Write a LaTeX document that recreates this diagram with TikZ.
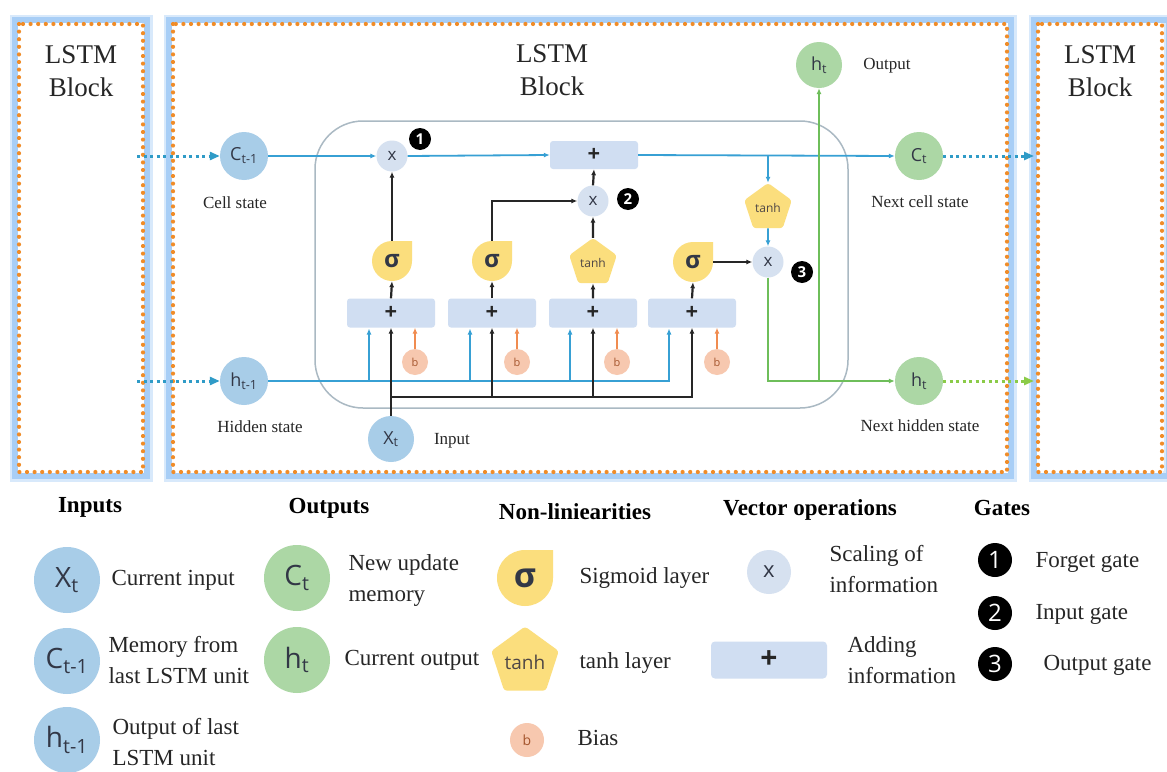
\documentclass[tikz,border=0pt]{standalone}
\usepackage{fontspec}
\setmainfont{Liberation Serif}
\newfontfamily\iconf{Open Sans}
\usetikzlibrary{arrows.meta,shapes.geometric,calc}
\definecolor{cblue}{RGB}{168,205,232}
\definecolor{cgreen}{RGB}{172,215,165}
\definecolor{cyel}{RGB}{251,222,125}
\definecolor{cgate}{RGB}{214,225,240}
\definecolor{cplus}{RGB}{208,222,242}
\definecolor{cbias}{RGB}{247,200,175}
\definecolor{cbiastxt}{RGB}{165,85,45}
\definecolor{lblue}{RGB}{55,160,212}
\definecolor{lgreen}{RGB}{110,190,90}
\definecolor{lorange}{RGB}{240,140,80}
\definecolor{fblue}{RGB}{168,206,246}
\definecolor{forange}{RGB}{240,140,40}
\definecolor{rectgrey}{RGB}{170,185,195}
\definecolor{dtxt}{RGB}{50,55,70}
\newcommand\fsz[2]{\fontsize{#1}{#2}\selectfont}
% sigma icon: name, x, y, half size, font size
\newcommand\sigicon[5]{%
  \fill[cyel] (#2+#4,#3-#4) -- (#2+#4,#3) arc[start angle=0,end angle=270,radius=#4] -- cycle;
  \node[circle,inner sep=0,minimum size=2*#4,text=dtxt,font=\iconf\bfseries\fsz{#5}{#5}] (#1) at (#2,#3) {σ};}
\begin{document}
\begin{tikzpicture}[x=1pt,y=-1pt,
  lbl/.style={font=\fsz{17}{20},text=black!85},
  leg/.style={font=\fsz{23}{31},anchor=west,align=left,text=black!85},
  hdr/.style={font=\bfseries\fsz{23}{28}},
  blk/.style={font=\fsz{27}{33},align=center,text=black!85},
  bcirc/.style={circle,inner sep=0,minimum size=48,fill=cblue,font=\iconf\fsz{18}{20},text=dtxt},
  gcirc/.style={circle,inner sep=0,minimum size=48,fill=cgreen,font=\iconf\fsz{18}{20},text=dtxt},
  bigb/.style={bcirc,minimum size=66,font=\iconf\fsz{28}{30}},
  bigg/.style={gcirc,minimum size=66,font=\iconf\fsz{28}{30}},
  gatex/.style={circle,inner sep=0,minimum size=31,fill=cgate,font=\iconf\fsz{17}{17},text=dtxt},
  plusbox/.style={rectangle,rounded corners=3,inner sep=0,minimum width=88,minimum height=28,fill=cplus,font=\iconf\bfseries\fsz{22}{22},text=black!85},
  tanhshape/.style={regular polygon,regular polygon sides=5,rounded corners=3,inner sep=0,minimum size=50,fill=cyel,font=\iconf\fsz{12}{12},text=dtxt!80!brown},
  biasc/.style={circle,inner sep=0,minimum size=26,fill=cbias,font=\iconf\fsz{11}{11},text=cbiastxt},
  badge/.style={circle,inner sep=0,minimum size=22,fill=black,text=white,font=\iconf\bfseries\fsz{15}{15}},
  bigbadge/.style={badge,minimum size=34,font=\iconf\fsz{24}{24}},
  bl/.style={draw=lblue,line width=1.8,-{Latex[length=6,width=5]}},
  bk/.style={draw=black!85,line width=2.2,-{Latex[length=6,width=5]}},
  gr/.style={draw=lgreen,line width=2.2,-{Latex[length=6,width=5]}},
  orr/.style={draw=lorange,line width=1.6,-{Latex[length=6,width=5]}},
  dotb/.style={draw=lblue!85!teal,line width=3,dash pattern=on 3pt off 3.5pt,-{Triangle[length=10,width=8]}},
  dotg/.style={draw=lgreen!80!yellow,line width=3,dash pattern=on 3pt off 3.5pt,-{Triangle[length=10,width=8]}},
  fglow/.style={draw=fblue!45,line width=11},
  fb/.style={draw=fblue,line width=6},
  fo/.style={draw=forange,line width=4.2,line cap=round,dash pattern=on 0pt off 7.6pt}
]
\useasboundingbox (0,0) rectangle (1167,771);
\fill[white] (0,0) rectangle (1167,771);
% frames
\draw[fglow] (15,20) rectangle (147,476);
\draw[fglow] (169,20) rectangle (1011,476);
\draw[fglow] (1034,20) rectangle (1169,476);
\draw[fb] (15,20) rectangle (147,476);
\draw[fb] (169,20) rectangle (1011,476);
\draw[fb] (1034,20) rectangle (1169,476);
\fill[white] (18,23) rectangle (144,473);
\fill[white] (172,23) rectangle (1008,473);
\fill[white] (1037,23) rectangle (1163,473);
\draw[fo] (19,24) rectangle (143,472);
\draw[fo] (173,24) rectangle (1007,472);
\draw[fo] (1038,24) rectangle (1162,472);
\node[blk] (lb1) at (81,71) {LSTM\\Block};
\node[blk] (lb2) at (552,70) {LSTM\\Block};
\node[blk] (lb3) at (1100,71) {LSTM\\Block};
% inner cell
\draw[rectgrey,line width=1.5,rounded corners=48] (315,121) rectangle (848,408);
% nodes
\node[bcirc] (cprev) at (244,156) {C\textsubscript{t-1}};
\node[bcirc] (hprev) at (244,381) {h\textsubscript{t-1}};
\node[bcirc,minimum size=46] (xt) at (391,439) {X\textsubscript{t}};
\node[gcirc,minimum size=46] (hto) at (819,65) {h\textsubscript{t}};
\node[gcirc] (ct) at (919,156) {C\textsubscript{t}};
\node[gcirc] (htn) at (919,381) {h\textsubscript{t}};
\node[lbl] (lcs) at (235,203) {Cell state};
\node[lbl] (lhs) at (260,427) {Hidden state};
\node[lbl] (lin) at (452,441) {Input};
\node[lbl] (lout) at (887,66) {Output};
\node[lbl] (lncs) at (920,202) {Next cell state};
\node[lbl] (lnhs) at (920,426) {Next hidden state};
\node[gatex] (x1) at (392,156) {x};
\node[badge] (g1) at (420,139) {1};
\node[plusbox] (pt) at (594,155) {+};
\node[gatex] (x2) at (593,201) {x};
\node[badge] (g2) at (628,199) {2};
\node[tanhshape] (tanhc) at (768,208) {tanh};
\node[gatex] (x3) at (768,262) {x};
\node[badge] (g3) at (802,272) {3};
\sigicon{s1}{392}{261}{20}{24}
\sigicon{s2}{492}{261}{20}{24}
\sigicon{s3}{693}{262}{20}{24}
\node[tanhshape] (tanhi) at (593,263) {tanh};
\node[plusbox,minimum height=29] (p1) at (391,313) {+};
\node[plusbox,minimum height=29] (p2) at (492,313) {+};
\node[plusbox,minimum height=29] (p3) at (593,313) {+};
\node[plusbox,minimum height=29] (p4) at (692,313) {+};
\node[biasc] (b1) at (415,362) {b};
\node[biasc] (b2) at (517,362) {b};
\node[biasc] (b3) at (617,362) {b};
\node[biasc] (b4) at (717,362) {b};
\coordinate (dl1) at (137,156);
\coordinate (dl2) at (137,381);
\coordinate (dr1) at (1034,156);
\coordinate (dr2) at (1034,381);
\coordinate (hb1) at (369,328.5);
\coordinate (hb2) at (470,328.5);
\coordinate (hb3) at (570,328.5);
\coordinate (hb4) at (669,328.5);
\coordinate (xj) at (391,397);
% connectors
\draw[dotb] (dl1) -- (cprev.west);
\draw[dotb] (dl2) -- (hprev.west);
\draw[dotb] (ct.east) -- (dr1);
\draw[dotg] (htn.east) -- (dr2);
\draw[bl] (cprev.east) -- (x1.west);
\draw[bl] (x1.east) -- (pt.west);
\draw[bl] (pt.east) -- (ct.west);
\draw[bl] (tanhc.north |- ct.west) -- (tanhc.north);
\draw[bl] (tanhc.south) -- (x3.north);
\draw[bk] (s3.east) -- (x3.west);
\draw[bk] (s1.north) -- (x1.south);
\draw[bk] (s2.north) |- (x2.west);
\draw[bk] (tanhi.north) -- (x2.south);
\draw[bk] (x2.north) -- (pt.south);
\draw[bk] (p1.north) -- (s1.south);
\draw[bk] (p2.north) -- (s2.south);
\draw[bk] (p3.north) -- (tanhi.south);
\draw[bk] (p4.north) -- (s3.south);
% hidden-state bus
\draw[bl] (hprev.east) -| (hb4);
\draw[bl] (hb1 |- hprev.east) -- (hb1);
\draw[bl] (hb2 |- hprev.east) -- (hb2);
\draw[bl] (hb3 |- hprev.east) -- (hb3);
% input bus
\draw[bk] (xt.north) -- (p1.south);
\draw[bk] (xj) -| (p4.south);
\draw[bk] (xj -| p2.south) -- (p2.south);
\draw[bk] (xj -| p3.south) -- (p3.south);
% bias
\draw[orr] (b1.north) -- (b1.north |- p1.south);
\draw[orr] (b2.north) -- (b2.north |- p2.south);
\draw[orr] (b3.north) -- (b3.north |- p3.south);
\draw[orr] (b4.north) -- (b4.north |- p4.south);
% output path
\coordinate (gj) at (hto.south |- htn.west);
\draw[gr] (x3.south) |- (htn.west);
\draw[gr] (gj) -- (hto.south);
% legend
\node[hdr] (h1) at (90,507) {Inputs};
\node[hdr] (h2) at (329,508) {Outputs};
\node[hdr] (h3) at (575,512) {Non-liniearities};
\node[hdr] (h4) at (810,510) {Vector operations};
\node[hdr] (h5) at (1002,508) {Gates};
\node[bigb] (lx) at (67,580) {X\textsubscript{t}};
\node[leg] (tx) at (108,580) {Current input};
\node[bigb] (lc) at (67,661) {C\textsubscript{t-1}};
\node[leg] (tc) at (105,660) {Memory from\\last LSTM unit};
\node[bigb] (lh) at (67,740) {h\textsubscript{t-1}};
\node[leg] (th) at (109,742) {Output of last\\LSTM unit};
\node[bigg] (lct) at (297,578) {C\textsubscript{t}};
\node[leg] (tct) at (345,580) {New update\\memory};
\node[bigg] (lht) at (297,660) {h\textsubscript{t}};
\node[leg] (tht) at (341,660) {Current output};
\sigicon{ls}{525}{578}{28}{34}
\node[leg] (ts) at (576,578) {Sigmoid layer};
\node[tanhshape,minimum size=66,font=\iconf\fsz{19}{19}] (lt) at (525,662) {tanh};
\node[leg] (tt) at (576,663) {tanh layer};
\node[biasc,minimum size=34,font=\iconf\fsz{14}{14}] (lb) at (527,740) {b};
\node[leg] (tb) at (574,738) {Bias};
\node[gatex,minimum size=44,font=\iconf\fsz{22}{22}] (lxg) at (769,572) {x};
\node[leg] (txg) at (826,569) {Scaling of\\information};
\node[plusbox,minimum width=116,minimum height=37,rounded corners=4,font=\iconf\bfseries\fsz{30}{30}] (lpb) at (769,660) {+};
\node[leg] (tpb) at (844,660) {Adding\\information};
\node[bigbadge] (lg1) at (995,560) {1};
\node[leg] (tg1) at (1032,562) {Forget gate};
\node[bigbadge] (lg2) at (995,613) {2};
\node[leg] (tg2) at (1032,614) {Input gate};
\node[bigbadge] (lg3) at (995,664) {3};
\node[leg] (tg3) at (1040,665) {Output gate};
\end{tikzpicture}
\end{document}
